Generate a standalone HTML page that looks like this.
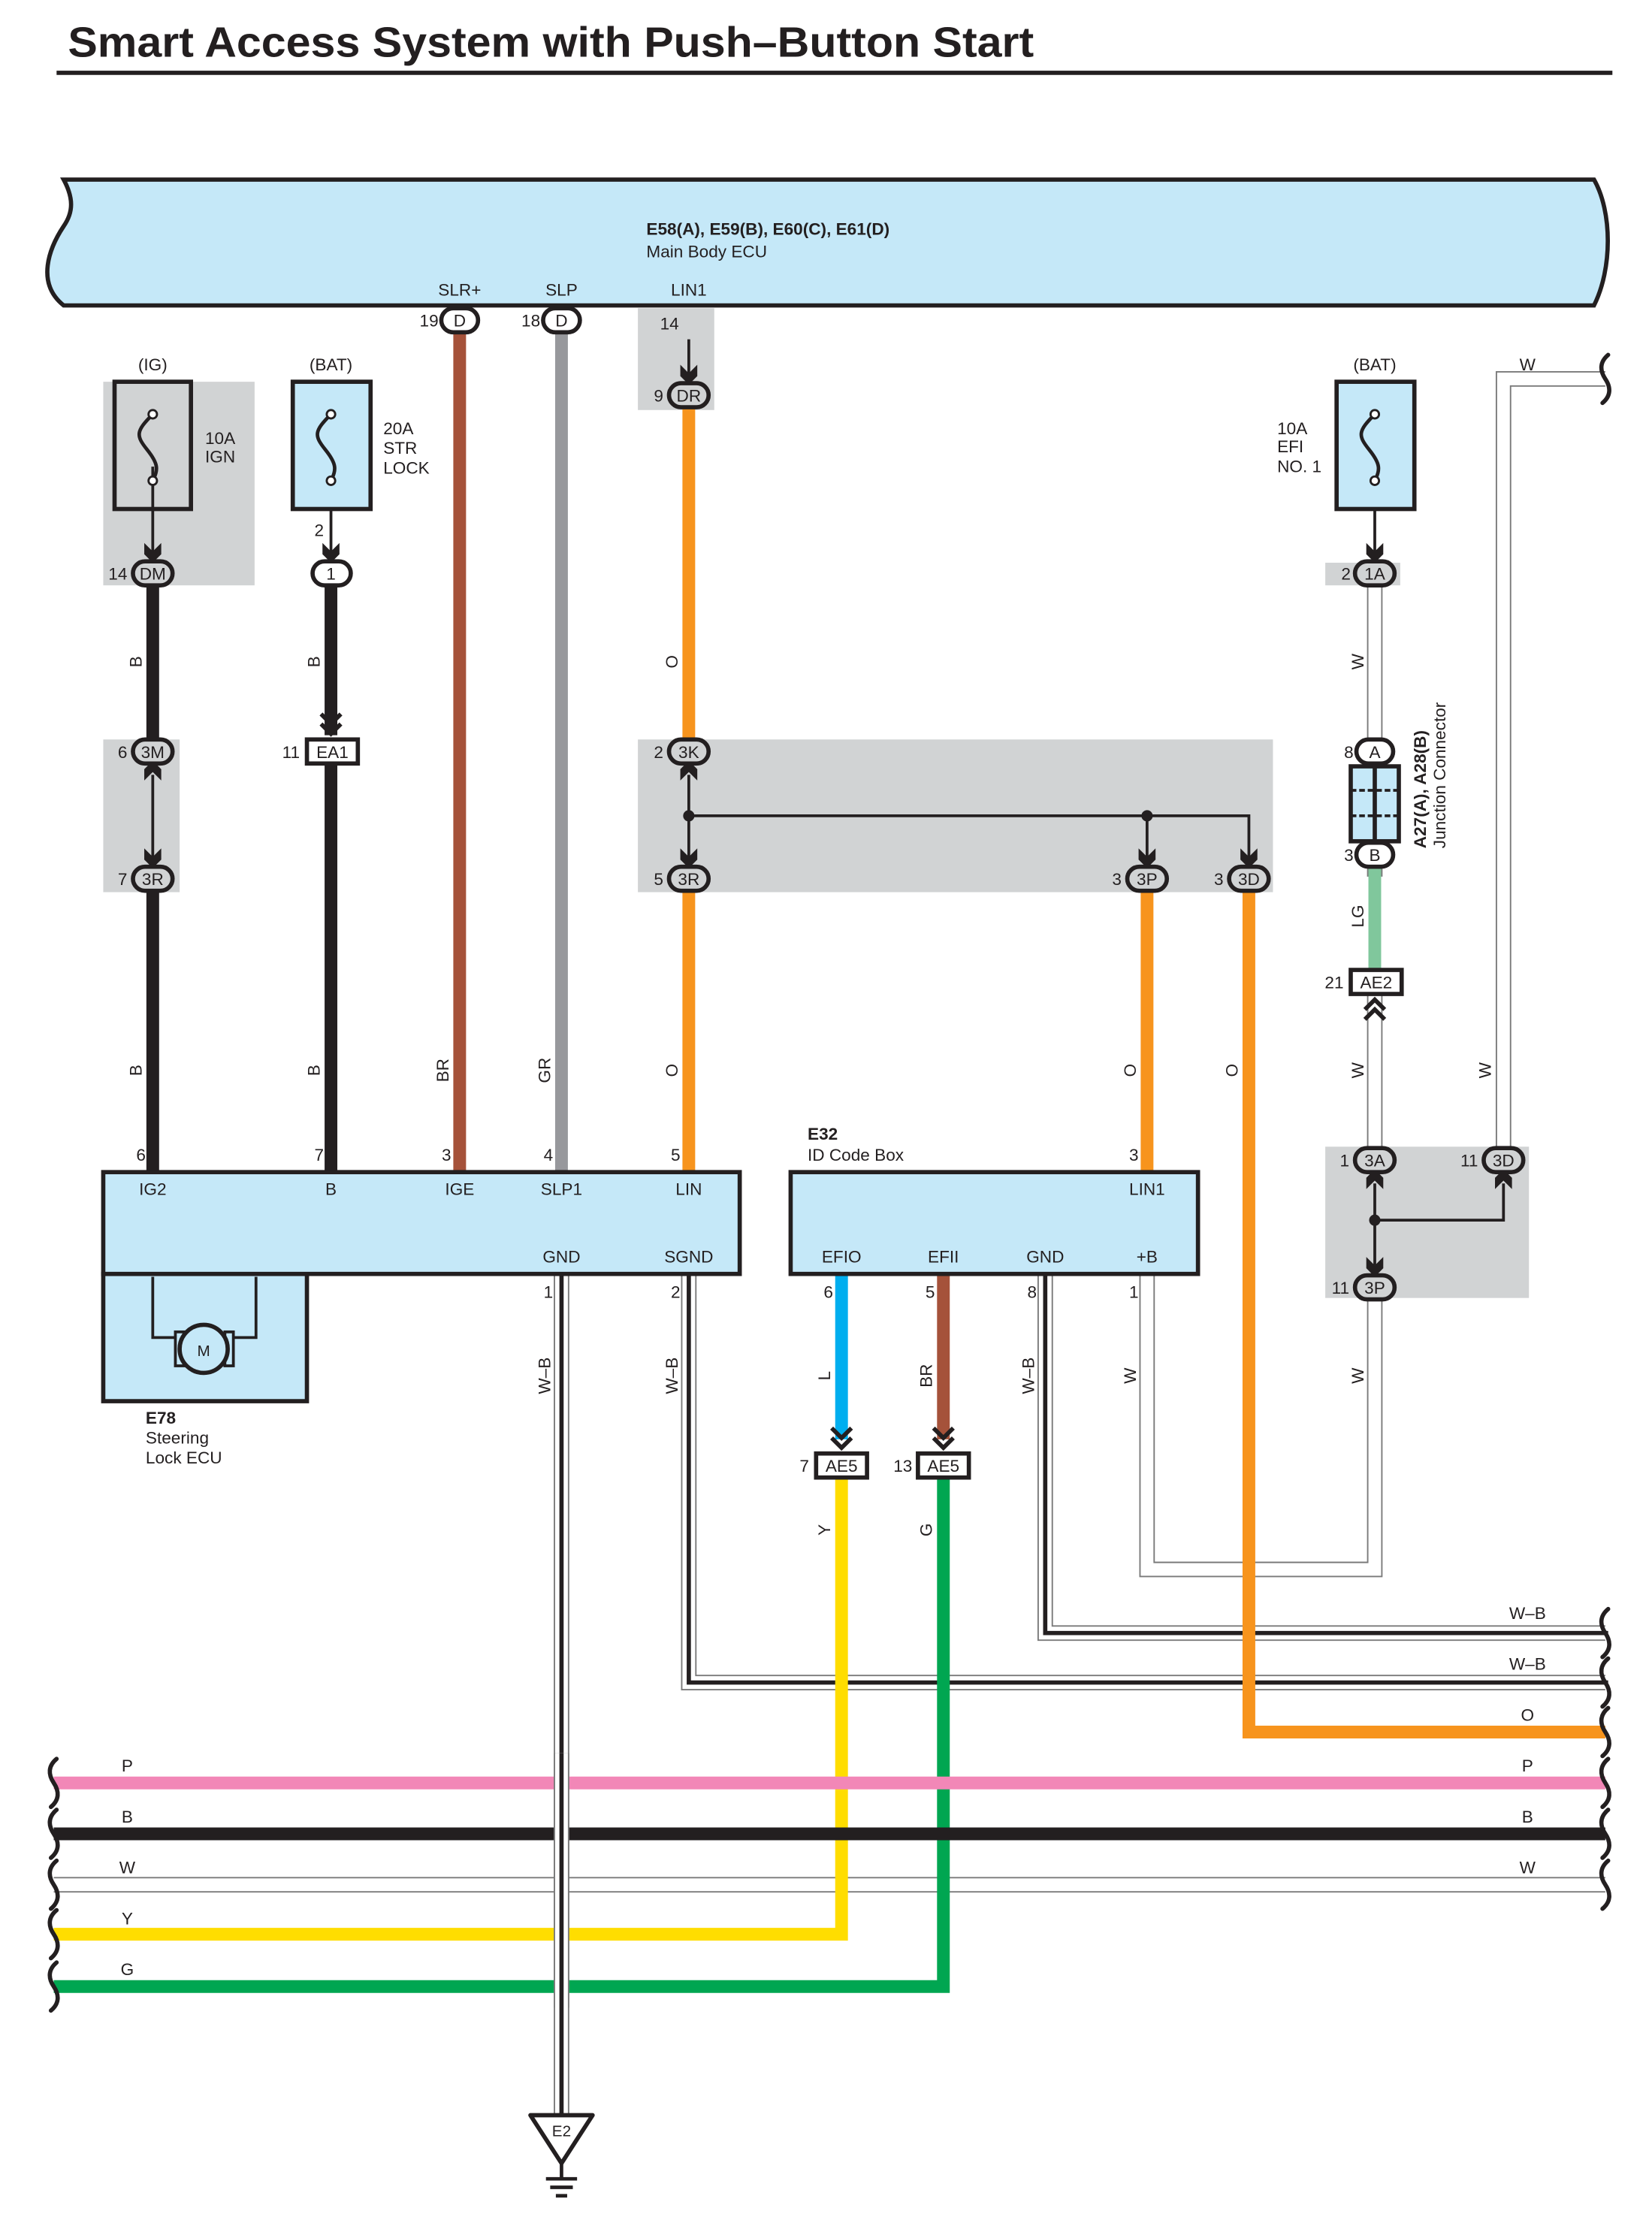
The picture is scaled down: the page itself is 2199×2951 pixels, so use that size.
<!DOCTYPE html>
<html><head><meta charset="utf-8"><style>
html,body{margin:0;padding:0;background:#fff}
svg{display:block}
text{font-family:"Liberation Sans",sans-serif;fill:#231f20}
</style></head><body>
<svg width="2199" height="2951" viewBox="0 0 1168 1568" preserveAspectRatio="none" xmlns="http://www.w3.org/2000/svg">
<defs>
<path id="ad" d="M-6 -14 L0 -8 L6 -14 L6 -6 L0 0 L-6 -6Z" fill="#231f20"/>
<path id="ch" d="M-7 -19 L0 -12 L7 -19 M-7 -12 L0 -5 L7 -12" fill="none" stroke="#231f20" stroke-width="3"/>
<path id="wv" d="M2 -17 C-4 -12 -4 -6 0 0 C4 6 4 12 -2 17" fill="none" stroke="#231f20" stroke-width="3" stroke-linecap="round"/>
</defs>
<rect width="1168" height="1568" fill="#fff"/>
<text x="48" y="40" font-size="30" font-weight="bold" textLength="683" lengthAdjust="spacingAndGlyphs">Smart Access System with Push–Button Start</text>
<rect x="40" y="50" width="1100" height="3" fill="#231f20"/>

<path d="M45 127 L1127 127 C1140 150 1140 190 1127 216 L45 216 C25 200 35 175 45 160 C52 150 52 140 45 127Z" fill="#c5e8f8" stroke="#231f20" stroke-width="3"/>
<text x="457" y="166" font-size="12" font-weight="bold">E58(A), E59(B), E60(C), E61(D)</text>
<text x="457" y="182" font-size="12">Main Body ECU</text>
<text x="325" y="209" font-size="12" text-anchor="middle">SLR+</text>
<text x="397" y="209" font-size="12" text-anchor="middle">SLP</text>
<text x="487" y="209" font-size="12" text-anchor="middle">LIN1</text>

<g fill="#d1d3d4">
<rect x="451" y="218" width="54" height="72"/>
<rect x="73" y="270" width="107" height="144"/>
<rect x="73" y="523" width="54" height="108"/>
<rect x="451" y="523" width="449" height="108"/>
<rect x="937" y="398" width="53" height="16"/>
<rect x="937" y="811" width="144" height="107"/>
</g>

<g fill="none" stroke-linejoin="miter">
<g stroke="#7a7a7a" stroke-width="11">
<path d="M972 410 V530 M972 620 V540"/>
<path d="M972 700 V820 M1063 820 V268 H1135"/>
<path d="M972 910 V1110 H811 V901"/>
<path d="M38 1333 H1135"/>
</g>
<g stroke="#fff" stroke-width="9">
<path d="M972 410 V530"/>
<path d="M972 700 V820 M1063 820 V268 H1137"/>
<path d="M972 910 V1110 H811 V901"/>
<path d="M36 1333 H1137"/>
</g>
<g stroke="#7a7a7a" stroke-width="11">
<path d="M397 901 V1497"/>
<path d="M487 901 V1190 H1135"/>
<path d="M739 901 V1155 H1135"/>
</g>
<g stroke="#fff" stroke-width="9">
<path d="M397 901 V1497"/>
<path d="M487 901 V1190 H1137"/>
<path d="M739 901 V1155 H1137"/>
</g>
<g stroke="#231f20" stroke-width="3">
<path d="M397 901 V1497"/>
<path d="M487 901 V1190 H1137"/>
<path d="M739 901 V1155 H1137"/>
</g>
</g>

<g fill="none" stroke-width="9">
<path d="M325 232 V829" stroke="#a5523a"/>
<path d="M397 232 V829" stroke="#97989c"/>
<path d="M487 286 V525 M487 627 V829" stroke="#f7941d"/>
<path d="M811 627 V829" stroke="#f7941d"/>
<path d="M883 627 V1225 H1135" stroke="#f7941d"/>
<path d="M108 412 V525 M108 627 V829" stroke="#231f20"/>
<path d="M234 412 V520 M234 537 V829" stroke="#231f20"/>
<path d="M972 611 V687" stroke="#80c79c"/>
<path d="M595 901 V1018" stroke="#00aeef"/>
<path d="M667 901 V1018" stroke="#a5523a"/>
<path d="M595 1042 V1368 H38" stroke="#ffdd00"/>
<path d="M667 1042 V1405 H38" stroke="#00a651"/>
<path d="M38 1261 H1135" stroke="#f287b7"/>
<path d="M38 1297 H1135" stroke="#231f20"/>
</g>
<g fill="none">
<path d="M397 1240 V1420" stroke="#7a7a7a" stroke-width="11"/>
<path d="M397 1240 V1420" stroke="#fff" stroke-width="9"/>
<path d="M397 1240 V1420" stroke="#231f20" stroke-width="3"/>
</g>

<g stroke="#231f20" stroke-width="2" fill="none">
<path d="M108 330 V390"/><path d="M234 330 V390"/><path d="M972 330 V390"/>
<path d="M487 240 V265"/>
<path d="M108 548 V606"/>
<path d="M487 548 V606 M487 577 H883 V606 M811 577 V606"/>
<path d="M972 837 V895 M972 863 H1063 V837"/>
</g>
<g fill="#231f20">
<circle cx="487" cy="577" r="4"/><circle cx="811" cy="577" r="4"/><circle cx="972" cy="863" r="4"/>
</g>
<use href="#ad" x="108" y="398"/><use href="#ad" x="234" y="398"/><use href="#ad" x="972" y="398"/>
<use href="#ad" x="487" y="272"/>
<use href="#ad" x="108" y="614"/><use href="#ad" x="487" y="614"/><use href="#ad" x="811" y="614"/><use href="#ad" x="883" y="614"/>
<use href="#ad" transform="translate(108 538) rotate(180)"/>
<use href="#ad" transform="translate(487 538) rotate(180)"/>
<use href="#ad" transform="translate(972 827) rotate(180)"/>
<use href="#ad" transform="translate(1063 827) rotate(180)"/>
<use href="#ad" x="972" y="903"/>
<use href="#ch" x="234" y="524"/>
<use href="#ch" x="595" y="1029"/><use href="#ch" x="667" y="1029"/>
<use href="#ch" transform="translate(972 702) rotate(180)"/>

<rect x="81" y="270" width="54" height="90" fill="none" stroke="#231f20" stroke-width="3"/>
<rect x="207" y="270" width="55" height="90" fill="#c5e8f8" stroke="#231f20" stroke-width="3"/>
<rect x="945" y="270" width="55" height="90" fill="#c5e8f8" stroke="#231f20" stroke-width="3"/>
<g fill="none" stroke="#231f20" stroke-width="2.5">
<path d="M108 293 C96 305 96 308 104 318 C112 328 112 332 108 340"/>
<path d="M234 293 C222 305 222 308 230 318 C238 328 238 332 234 340"/>
<path d="M972 293 C960 305 960 308 968 318 C976 328 976 332 972 340"/>
</g>
<g fill="#fff" stroke="#231f20" stroke-width="1.5">
<circle cx="108" cy="293" r="3"/><circle cx="108" cy="340" r="3"/>
<circle cx="234" cy="293" r="3"/><circle cx="234" cy="340" r="3"/>
<circle cx="972" cy="293" r="3"/><circle cx="972" cy="340" r="3"/>
</g>
<g font-size="12">
<text x="108" y="262" text-anchor="middle">(IG)</text>
<text x="234" y="262" text-anchor="middle">(BAT)</text>
<text x="972" y="262" text-anchor="middle">(BAT)</text>
<text x="145" y="314">10A</text><text x="145" y="327">IGN</text>
<text x="271" y="307">20A</text><text x="271" y="321">STR</text><text x="271" y="335">LOCK</text>
<text x="903" y="307">10A</text><text x="903" y="320">EFI</text><text x="903" y="334">NO. 1</text>
<text x="1080" y="262" text-anchor="middle">W</text>
</g>

<g stroke="#231f20" stroke-width="3">
<rect x="312" y="218" width="26" height="17" rx="8.5" fill="#fff"/>
<rect x="384" y="218" width="26" height="17" rx="8.5" fill="#fff"/>
<rect x="473" y="271" width="28" height="17" rx="8.5" fill="#d1d3d4"/>
<rect x="94" y="397" width="28" height="17" rx="8.5" fill="#d1d3d4"/>
<rect x="221" y="397" width="27" height="17" rx="8.5" fill="#fff"/>
<rect x="958" y="397" width="28" height="17" rx="8.5" fill="#d1d3d4"/>
<rect x="94" y="523" width="28" height="17" rx="8.5" fill="#d1d3d4"/>
<rect x="94" y="613" width="28" height="17" rx="8.5" fill="#d1d3d4"/>
<rect x="473" y="523" width="28" height="17" rx="8.5" fill="#d1d3d4"/>
<rect x="473" y="613" width="28" height="17" rx="8.5" fill="#d1d3d4"/>
<rect x="797" y="613" width="28" height="17" rx="8.5" fill="#d1d3d4"/>
<rect x="869" y="613" width="28" height="17" rx="8.5" fill="#d1d3d4"/>
<rect x="959" y="523" width="26" height="17" rx="8.5" fill="#fff"/>
<rect x="959" y="596" width="26" height="17" rx="8.5" fill="#fff"/>
<rect x="958" y="812" width="28" height="17" rx="8.5" fill="#d1d3d4"/>
<rect x="1049" y="812" width="28" height="17" rx="8.5" fill="#d1d3d4"/>
<rect x="958" y="902" width="28" height="17" rx="8.5" fill="#d1d3d4"/>
<rect x="217" y="523" width="36" height="17" fill="#fff"/>
<rect x="955" y="686" width="36" height="17" fill="#fff"/>
<rect x="577" y="1028" width="36" height="17" fill="#fff"/>
<rect x="649" y="1028" width="36" height="17" fill="#fff"/>
<rect x="955" y="542" width="34" height="53" fill="#c5e8f8"/>
<path d="M972 542 V595"/>
</g>
<path d="M955 559 H989 M955 577 H989" stroke="#231f20" stroke-width="2" stroke-dasharray="4 2"/>
<g font-size="12" text-anchor="middle">
<text x="325" y="231">D</text><text x="397" y="231">D</text>
<text x="487" y="284">DR</text><text x="108" y="410">DM</text><text x="234" y="410">1</text><text x="972" y="410">1A</text>
<text x="108" y="536">3M</text><text x="108" y="626">3R</text><text x="487" y="536">3K</text><text x="487" y="626">3R</text>
<text x="811" y="626">3P</text><text x="883" y="626">3D</text>
<text x="972" y="536">A</text><text x="972" y="609">B</text>
<text x="972" y="825">3A</text><text x="1063" y="825">3D</text><text x="972" y="915">3P</text>
<text x="235" y="536">EA1</text><text x="973" y="699">AE2</text><text x="595" y="1041">AE5</text><text x="667" y="1041">AE5</text>
</g>
<g font-size="12" text-anchor="end">
<text x="310" y="231">19</text><text x="382" y="231">18</text><text x="469" y="284">9</text>
<text x="90" y="410">14</text><text x="229" y="379">2</text><text x="955" y="410">2</text>
<text x="90" y="536">6</text><text x="90" y="626">7</text><text x="212" y="536">11</text>
<text x="469" y="536">2</text><text x="469" y="626">5</text><text x="793" y="626">3</text><text x="865" y="626">3</text>
<text x="957" y="536">8</text><text x="957" y="609">3</text><text x="950" y="699">21</text>
<text x="954" y="825">1</text><text x="1045" y="825">11</text><text x="954" y="915">11</text>
<text x="572" y="1041">7</text><text x="645" y="1041">13</text>
<text x="480" y="233">14</text>
</g>
<g transform="translate(1008 600) rotate(-90)"><text font-size="12" font-weight="bold">A27(A), A28(B)</text></g>
<g transform="translate(1022 600) rotate(-90)"><text font-size="12">Junction Connector</text></g>

<rect x="73" y="901" width="144" height="90" fill="#c5e8f8" stroke="#231f20" stroke-width="3"/>
<rect x="73" y="829" width="450" height="72" fill="#c5e8f8" stroke="#231f20" stroke-width="3"/>
<g stroke="#231f20" stroke-width="2" fill="none">
<path d="M108 903 V946 H124 M181 903 V946 H165"/>
<rect x="124" y="942" width="6" height="24" fill="#c5e8f8"/><rect x="159" y="942" width="6" height="24" fill="#c5e8f8"/>
<circle cx="144" cy="954" r="17" fill="#c5e8f8" stroke-width="3"/>
</g>
<text x="144" y="959" font-size="11" text-anchor="middle">M</text>
<g font-size="12" text-anchor="middle">
<text x="108" y="845">IG2</text><text x="234" y="845">B</text><text x="325" y="845">IGE</text><text x="397" y="845">SLP1</text><text x="487" y="845">LIN</text>
<text x="397" y="893">GND</text><text x="487" y="893">SGND</text>
</g>
<g font-size="12" text-anchor="end">
<text x="103" y="821">6</text><text x="229" y="821">7</text><text x="319" y="821">3</text><text x="391" y="821">4</text><text x="481" y="821">5</text>
<text x="391" y="918">1</text><text x="481" y="918">2</text>
<text x="805" y="821">3</text>
<text x="589" y="918">6</text><text x="661" y="918">5</text><text x="733" y="918">8</text><text x="805" y="918">1</text>
</g>
<text x="103" y="1007" font-size="12" font-weight="bold">E78</text>
<text x="103" y="1021" font-size="12">Steering</text>
<text x="103" y="1035" font-size="12">Lock ECU</text>

<rect x="559" y="829" width="288" height="72" fill="#c5e8f8" stroke="#231f20" stroke-width="3"/>
<text x="571" y="806" font-size="12" font-weight="bold">E32</text>
<text x="571" y="821" font-size="12">ID Code Box</text>
<g font-size="12" text-anchor="middle">
<text x="811" y="845">LIN1</text>
<text x="595" y="893">EFIO</text><text x="667" y="893">EFII</text><text x="739" y="893">GND</text><text x="811" y="893">+B</text>
</g>

<g font-size="12" text-anchor="middle">
<text transform="translate(100 468) rotate(-90)">B</text>
<text transform="translate(226 468) rotate(-90)">B</text>
<text transform="translate(479 468) rotate(-90)">O</text>
<text transform="translate(964 468) rotate(-90)">W</text>
<text transform="translate(964 648) rotate(-90)">LG</text>
<text transform="translate(100 757) rotate(-90)">B</text>
<text transform="translate(226 757) rotate(-90)">B</text>
<text transform="translate(317 757) rotate(-90)">BR</text>
<text transform="translate(389 757) rotate(-90)">GR</text>
<text transform="translate(479 757) rotate(-90)">O</text>
<text transform="translate(803 757) rotate(-90)">O</text>
<text transform="translate(875 757) rotate(-90)">O</text>
<text transform="translate(964 757) rotate(-90)">W</text>
<text transform="translate(1054 757) rotate(-90)">W</text>
<text transform="translate(389 973) rotate(-90)">W–B</text>
<text transform="translate(479 973) rotate(-90)">W–B</text>
<text transform="translate(587 973) rotate(-90)">L</text>
<text transform="translate(659 973) rotate(-90)">BR</text>
<text transform="translate(731 973) rotate(-90)">W–B</text>
<text transform="translate(803 973) rotate(-90)">W</text>
<text transform="translate(964 973) rotate(-90)">W</text>
<text transform="translate(587 1082) rotate(-90)">Y</text>
<text transform="translate(659 1082) rotate(-90)">G</text>
</g>

<g font-size="12" text-anchor="middle">
<text x="90" y="1253">P</text><text x="90" y="1289">B</text><text x="90" y="1325">W</text><text x="90" y="1361">Y</text><text x="90" y="1397">G</text>
<text x="1080" y="1145">W–B</text><text x="1080" y="1181">W–B</text><text x="1080" y="1217">O</text>
<text x="1080" y="1253">P</text><text x="1080" y="1289">B</text><text x="1080" y="1325">W</text>
</g>
<g>
<use href="#wv" x="38" y="1261"/><use href="#wv" x="38" y="1297"/><use href="#wv" x="38" y="1333"/><use href="#wv" x="38" y="1368"/><use href="#wv" x="38" y="1405"/>
<use href="#wv" x="1135" y="1155"/><use href="#wv" x="1135" y="1190"/><use href="#wv" x="1135" y="1225"/><use href="#wv" x="1135" y="1261"/><use href="#wv" x="1135" y="1297"/><use href="#wv" x="1135" y="1333"/>
<use href="#wv" x="1135" y="268"/>
</g>

<path d="M375 1496 H419 L397 1530Z" fill="#fff" stroke="#231f20" stroke-width="3" stroke-linejoin="round"/>
<text x="397" y="1511" font-size="11" text-anchor="middle">E2</text>
<g stroke="#231f20" stroke-width="2.5">
<path d="M397 1530 V1540 M386 1541 H408 M389 1547 H405 M393 1553 H401"/>
</g>
</svg>
</body></html>
